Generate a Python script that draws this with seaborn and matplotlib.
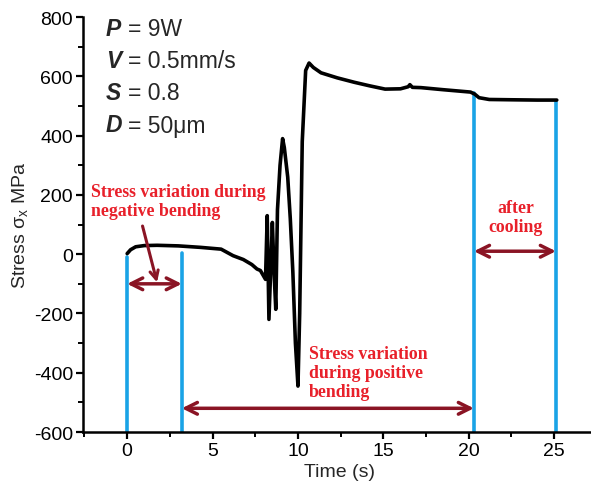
import numpy as np
import pandas as pd
import matplotlib
matplotlib.use('Agg')
import matplotlib.pyplot as plt
import seaborn as sns

# stress trace (time in s, stress in MPa)
time = [0.0, 0.2, 0.5, 1.0, 1.75, 3.0, 4.3, 5.5, 6.2, 6.8, 7.3, 7.6, 7.8, 8.1,
        8.2, 8.3, 8.5, 8.6, 8.7, 8.8, 8.95, 9.1, 9.2, 9.4, 9.55, 9.7, 9.85,
        10.0, 10.1, 10.25, 10.45, 10.65, 10.9, 11.35, 12.3, 13.3, 14.2, 15.1,
        16.0, 16.45, 16.55, 16.7, 17.2, 18.5, 19.5, 20.1, 20.35, 20.6, 21.2,
        22.5, 24.0, 25.15]
stress = [2, 15, 25, 29, 30, 28, 23, 17, -5, -18, -35, -50, -55, -85,
          130, -220, 107, -60, -186, 150, 300, 390, 360, 260, 120, -60, -300,
          -445, -200, 380, 620, 645, 630, 612, 595, 580, 568, 557,
          558, 565, 572, 563, 562, 555, 550, 547, 540, 528, 522,
          521, 520, 520]

# blue markers: x position and top of line
marker_x = [0.0, 3.2, 20.3, 25.1]
marker_top = [-10, 5, 545, 515]

# double arrows: (start, end, level)
arrows = [(0.0, 3.2, -100), (3.2, 20.3, -520), (20.3, 25.1, 10)]

params = [('P', '= 9W'), ('V', '= 0.5mm/s'), ('S', '= 0.8'), ('D', '= 50\u03bcm')]

sns.set_theme(style='ticks')
plt.rcParams['font.family'] = ['Liberation Sans', 'DejaVu Sans']
plt.rcParams['axes.unicode_minus'] = False
plt.rcParams['mathtext.default'] = 'regular'

fig = plt.figure(figsize=(5.91, 4.89), dpi=100)
ax = fig.add_axes([0.140, 0.1145, 0.87, 0.8485])

blue = '#1aa3e6'
maroon = '#8a1424'
red = '#e8202a'

for x, top in zip(marker_x, marker_top):
    ax.plot([x, x], [-600, top], color=blue, lw=2.6, zorder=2)

df = pd.DataFrame({'time': time, 'stress': stress})
sns.lineplot(data=df, x='time', y='stress', color='black', lw=2.6, sort=False,
             ax=ax, zorder=3)

for x0, x1, y in arrows:
    ax.annotate('', xy=(x1, y), xytext=(x0, y),
                arrowprops=dict(arrowstyle='<->,head_length=0.7,head_width=0.35',
                                color=maroon, lw=2.5, shrinkA=0, shrinkB=0),
                zorder=4)
# slanted pointer from the text to the first arrow
ax.annotate('', xy=(1.75, -95), xytext=(0.9, 95),
            arrowprops=dict(arrowstyle='->,head_length=0.5,head_width=0.25',
                            color=maroon, lw=2.2, shrinkA=0, shrinkB=0), zorder=4)

serif = dict(family='Liberation Serif', fontweight='bold', color=red, fontsize=12.8)
ax.text(-2.1, 178, 'Stress variation during\nnegative bending', ha='left',
        va='center', linespacing=1.15, **serif)
ax.text(10.65, -400, 'Stress variation\nduring positive\nbending', ha='left',
        va='center', linespacing=1.15, **serif)
ax.text(22.75, 125, 'after\ncooling', ha='center', va='center',
        linespacing=1.15, **serif)

for i, (sym, rest) in enumerate(params):
    yy = 1 - (30 + 32 * i) / 489
    fig.text(106 / 591, yy, sym, fontsize=16.5, fontweight='bold', style='italic',
             ha='left', va='center')
    fig.text(128 / 591, yy, rest, fontsize=16.5, ha='left', va='center')

ax.set_xlim(-2.6, 27.5)
ax.set_ylim(-600, 800)
ax.set_xticks([0, 5, 10, 15, 20, 25])
ax.set_xticks(np.arange(-2.5, 27.6, 5), minor=True)
ax.set_yticks(np.arange(-600, 801, 200))
ax.set_yticks(np.arange(-500, 800, 200), minor=True)
ax.set_xlabel('Time (s)', fontsize=14, labelpad=3)
ax.set_ylabel('Stress $\\sigma_x$ MPa', fontsize=14, labelpad=3)
ax.tick_params(which='major', direction='out', length=5, width=1.6, labelsize=14,
               color='black', labelcolor='black', pad=2)
ax.tick_params(which='minor', direction='out', length=3.5, width=1.4, color='black')
sns.despine(ax=ax)
for s in ['left', 'bottom']:
    ax.spines[s].set_linewidth(1.8)
    ax.spines[s].set_color('black')

fig.savefig('out.png', dpi=100)
